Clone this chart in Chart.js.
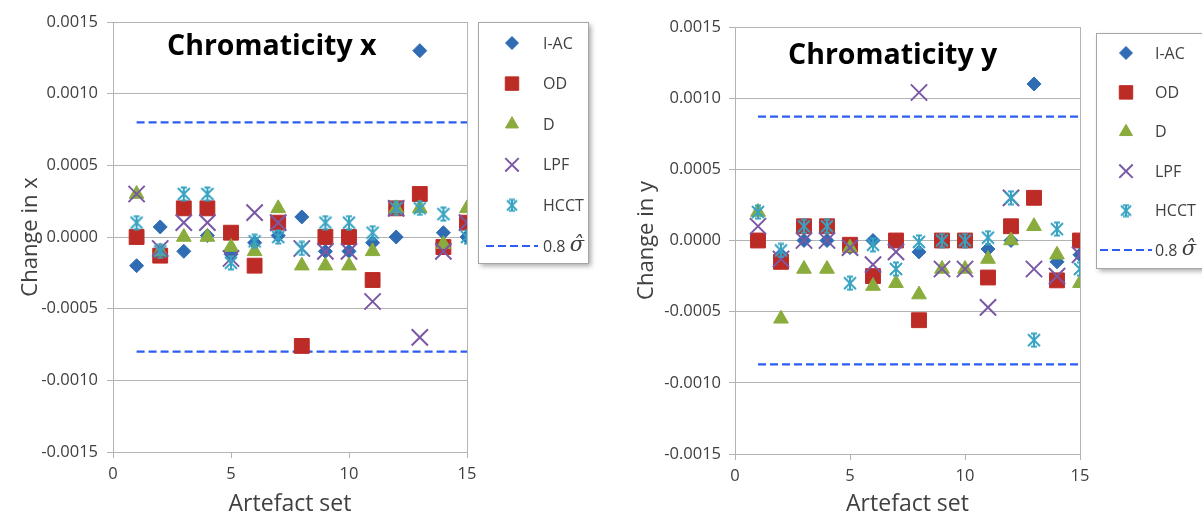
<!DOCTYPE html>
<html>
<head>
<meta charset="utf-8">
<script src="https://cdn.jsdelivr.net/npm/chart.js@4.4.0/dist/chart.umd.min.js"></script>
<style>
  body { margin: 0; background: #fff; width: 1202px; height: 520px; overflow: hidden; position: relative; }
  canvas { position: absolute; top: 0; }
  #chart-x { left: 0; }
  #chart-y { left: 610px; }
</style>
</head>
<body>
<canvas id="chart-x" width="610" height="520"></canvas>
<canvas id="chart-y" width="592" height="520"></canvas>
<script>
// artefact sets on the x axis
const artefactSets = [1, 2, 3, 4, 5, 6, 7, 8, 9, 10, 11, 12, 13, 14, 15]
const seriesNames = ['I-AC', 'OD', 'D', 'LPF', 'HCCT']

// change in chromaticity x
const iacX = [-0.0002, 0.00007, -0.0001, 0.00001, -0.00012, -0.00004, 0.00001, 0.00014, -0.0001, -0.0001, -0.00004, 0.0, 0.0013, 0.00003, 0.0]
const odX = [0.0, -0.00013, 0.0002, 0.0002, 0.00003, -0.0002, 0.0001, -0.00076, 0.0, 0.0, -0.0003, 0.0002, 0.0003, -0.00007, 0.0001]
const dX = [0.0003, -0.0001, 0.0, 0.0, -0.00007, -0.0001, 0.0002, -0.0002, -0.0002, -0.0002, -0.0001, 0.0002, 0.0002, -0.00005, 0.0002]
const lpfX = [0.0003, -0.00008, 0.0001, 0.0001, -0.00015, 0.00017, 0.0001, -0.00008, -0.0001, -0.0001, -0.00045, 0.0002, -0.0007, -0.0001, 0.0001]
const hcctX = [0.0001, -0.0001, 0.0003, 0.0003, -0.00018, -0.00003, 0.0, -0.00008, 0.0001, 0.0001, 0.00003, 0.0002, 0.0002, 0.00016, 0.0]
const sigmaX = 0.0008

// change in chromaticity y
const iacY = [0.0, -0.0001, 0.0, 0.0, -0.00005, 0.0, 0.0, -0.00008, 0.0, 0.0, -0.00006, 0.0, 0.0011, -0.00015, -0.0001]
const odY = [0.0, -0.00015, 0.0001, 0.0001, -0.00003, -0.00025, 0.0, -0.00056, 0.0, 0.0, -0.00026, 0.0001, 0.0003, -0.00028, 0.0]
const dY = [0.0002, -0.00055, -0.0002, -0.0002, -0.00005, -0.00032, -0.0003, -0.00038, -0.0002, -0.0002, -0.00013, 0.0, 0.0001, -0.0001, -0.0003]
const lpfY = [0.0001, -0.00013, 0.0, 0.0, -0.00005, -0.00017, -0.00008, 0.00104, -0.0002, -0.0002, -0.00047, 0.0003, -0.0002, -0.00025, -0.0001]
const hcctY = [0.0002, -0.00007, 0.0001, 0.0001, -0.0003, -0.00003, -0.0002, -0.00001, 0.0, 0.0, 0.00002, 0.0003, -0.0007, 0.00008, -0.0002]
const sigmaY = 0.00087

const yTicks = { min: -0.0015, max: 0.0015, step: 0.0005 }
const xTicks = { min: 0, max: 15, step: 5 }

const FONT = "'Open Sans', sans-serif"
const GRID = '#b3b3b3'
const TEXT = '#404040'
const COLORS = ['#2f6cb4', '#bd2b26', '#8aac3c', '#7a58a4', '#37a3c2']
const DASH_BLUE = '#2d5df2'

// Excel-like star marker (X with vertical bar)
function starMarker(size, color) {
  const c = document.createElement('canvas')
  c.width = size
  c.height = size
  const g = c.getContext('2d')
  const m = 2, e = size - 2
  g.strokeStyle = color
  g.lineWidth = 2
  g.beginPath()
  g.moveTo(m, m); g.lineTo(e, e)
  g.moveTo(e, m); g.lineTo(m, e)
  g.moveTo(size / 2, 1); g.lineTo(size / 2, size - 1)
  g.moveTo(size / 2 - 3, 1.5); g.lineTo(size / 2 + 3, 1.5)
  g.moveTo(size / 2 - 3, size - 1.5); g.lineTo(size / 2 + 3, size - 1.5)
  g.stroke()
  return c
}

const markerStyles = [
  { pointStyle: 'rectRot', radius: 7, borderWidth: 1, legendRadius: 6.5 },
  { pointStyle: 'rect', radius: 10.5, borderWidth: 1, legendRadius: 9.5 },
  { pointStyle: 'triangle', radius: 8.5, borderWidth: 1, legendRadius: 7.5 },
  { pointStyle: 'crossRot', radius: 11.5, borderWidth: 2, legendRadius: 9.5 },
  { pointStyle: starMarker(16, COLORS[4]), radius: 8, borderWidth: 2, legendImg: starMarker(14, COLORS[4]) },
]

function toPoints(values) {
  return artefactSets.map((s, i) => ({ x: s, y: values[i] }))
}

function buildDatasets(seriesValues, sigma) {
  const sets = seriesValues.map((vals, i) => ({
    type: 'scatter',
    label: seriesNames[i],
    data: toPoints(vals),
    pointStyle: markerStyles[i].pointStyle,
    pointRadius: markerStyles[i].radius,
    pointHoverRadius: markerStyles[i].radius,
    pointBackgroundColor: COLORS[i],
    pointBorderColor: COLORS[i],
    pointBorderWidth: markerStyles[i].borderWidth,
    order: 5 - i,
  }))
  const first = artefactSets[0]
  const last = artefactSets[artefactSets.length - 1]
  ;[sigma, -sigma].forEach(v => {
    sets.push({
      type: 'line',
      label: '0.8 sigma',
      data: [{ x: first, y: v }, { x: last, y: v }],
      borderColor: DASH_BLUE,
      borderWidth: 2.2,
      borderDash: [8, 4],
      pointRadius: 0,
      fill: false,
      order: 6,
    })
  })
  return sets
}

// boxed legend with shadow, Excel style
const boxLegend = {
  id: 'boxLegend',
  afterDraw(chart, args, o) {
    const ctx = chart.ctx
    ctx.save()
    ctx.shadowColor = 'rgba(0,0,0,0.35)'
    ctx.shadowBlur = 5
    ctx.shadowOffsetX = 3
    ctx.shadowOffsetY = 3
    ctx.fillStyle = '#fff'
    ctx.fillRect(o.x, o.y, o.w, o.h)
    ctx.shadowColor = 'rgba(0,0,0,0)'
    ctx.strokeStyle = '#a6a6a6'
    ctx.lineWidth = 1
    ctx.strokeRect(o.x + 0.5, o.y + 0.5, o.w, o.h)

    ctx.font = '16px ' + FONT
    ctx.textBaseline = 'middle'
    ctx.textAlign = 'left'
    seriesNames.forEach((name, i) => {
      const y = o.rowY + i * o.rowGap
      const st = markerStyles[i]
      ctx.fillStyle = COLORS[i]
      ctx.strokeStyle = COLORS[i]
      ctx.lineWidth = st.borderWidth
      Chart.helpers.drawPoint(ctx, {
        pointStyle: st.legendImg || st.pointStyle,
        radius: st.legendRadius || st.radius,
        rotation: 0,
        borderWidth: st.borderWidth,
      }, o.markX, y)
      ctx.fillStyle = TEXT
      ctx.fillText(name, o.textX, y + 1)
    })
    const y = o.rowY + 5 * o.rowGap
    ctx.strokeStyle = DASH_BLUE
    ctx.lineWidth = 2.2
    ctx.setLineDash([8, 4])
    ctx.beginPath()
    ctx.moveTo(o.markX - 26, y)
    ctx.lineTo(o.markX + 26, y)
    ctx.stroke()
    ctx.setLineDash([])
    ctx.fillStyle = TEXT
    ctx.fillText('0.8', o.textX, y + 1)
    const w = ctx.measureText('0.8 ').width
    ctx.font = "italic 21px 'DejaVu Serif', serif"
    ctx.fillText('\u03C3\u0302', o.textX + w, y)
    ctx.restore()
  },
}

const innerTitle = {
  id: 'innerTitle',
  afterDraw(chart, args, o) {
    const ctx = chart.ctx
    ctx.save()
    ctx.font = 'bold 28.5px ' + FONT
    ctx.fillStyle = '#000'
    ctx.textBaseline = 'alphabetic'
    ctx.fillText(o.text, o.x, o.y)
    ctx.restore()
  },
}

function makeConfig(seriesValues, sigma, opt) {
  return {
    type: 'scatter',
    data: { datasets: buildDatasets(seriesValues, sigma) },
    options: {
      responsive: false,
      animation: false,
      layout: { padding: { top: opt.top, right: opt.right, left: 0, bottom: 0 } },
      plugins: {
        legend: { display: false },
        tooltip: { enabled: false },
        boxLegend: opt.legend,
        innerTitle: opt.title,
      },
      scales: {
        x: {
          type: 'linear',
          min: xTicks.min,
          max: xTicks.max,
          afterFit: s => { s.height = opt.xHeight },
          ticks: { stepSize: xTicks.step, color: TEXT, font: { family: FONT, size: 16.5 }, padding: 6 },
          grid: {
            color: c => (c.tick && c.tick.value === xTicks.max ? GRID : 'rgba(0,0,0,0)'),
            tickColor: GRID,
            tickLength: 6,
          },
          border: { color: GRID },
          title: { display: true, text: 'Artefact set', color: TEXT, font: { family: FONT, size: 23 }, padding: { top: 0, bottom: 2 } },
        },
        y: {
          min: yTicks.min,
          max: yTicks.max,
          afterFit: s => { s.width = opt.yWidth },
          ticks: {
            stepSize: yTicks.step,
            color: TEXT,
            font: { family: FONT, size: 16.5 },
            padding: opt.tickPad,
            callback: v => (Math.abs(v) < 1e-12 ? 0 : v).toFixed(4),
          },
          grid: { color: GRID, tickColor: GRID, tickLength: 6 },
          border: { color: GRID },
          title: { display: true, text: opt.yLabel, color: TEXT, font: { family: FONT, size: 22 }, padding: { top: opt.yTitlePad, bottom: 0 } },
        },
      },
    },
    plugins: [boxLegend, innerTitle],
  }
}

const chartX = new Chart(document.getElementById('chart-x').getContext('2d'), makeConfig(
  [iacX, odX, dX, lpfX, hcctX], sigmaX, {
    top: 22, right: 143, xHeight: 68, yWidth: 113, tickPad: 9, yTitlePad: 18,
    yLabel: 'Change in x',
    title: { text: 'Chromaticity x', x: 167, y: 55 },
    legend: { x: 478, y: 22, w: 110, h: 241, markX: 512, textX: 543, rowY: 43, rowGap: 40.6 },
  }))

const chartY = new Chart(document.getElementById('chart-y').getContext('2d'), makeConfig(
  [iacY, odY, dY, lpfY, hcctY], sigmaY, {
    top: 27, right: 122, xHeight: 66, yWidth: 125, tickPad: 8, yTitlePad: 24,
    yLabel: 'Change in y',
    title: { text: 'Chromaticity y', x: 178, y: 64 },
    legend: { x: 486, y: 33, w: 110, h: 235, markX: 516, textX: 545, rowY: 53, rowGap: 39.4 },
  }))
</script>
</body>
</html>
